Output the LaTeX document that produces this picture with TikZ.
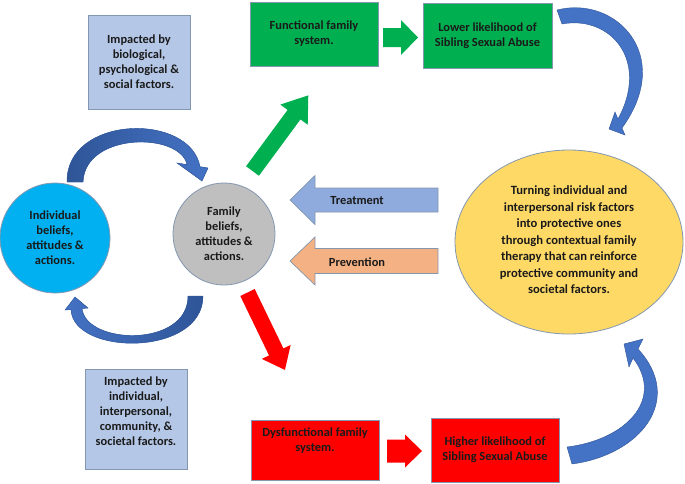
\documentclass[tikz,border=0pt]{standalone}
\usepackage{fontspec}
\setmainfont{Carlito}
\usetikzlibrary{arrows.meta,shapes.geometric}
\definecolor{lightbluebox}{HTML}{B4C7E7}
\definecolor{greenbox}{HTML}{00B050}
\definecolor{redbox}{HTML}{FF0000}
\definecolor{bluecirc}{HTML}{00B0F0}
\definecolor{graycirc}{HTML}{BFBFBF}
\definecolor{yellowell}{HTML}{FFD966}
\definecolor{treatc}{HTML}{8FAADC}
\definecolor{prevc}{HTML}{F4B183}
\definecolor{curvc}{HTML}{4472C4}
\definecolor{curvdark}{HTML}{2F5597}
\definecolor{edgec}{HTML}{8497B0}
\definecolor{txtc}{HTML}{1A1A1A}
\newcommand\blockarr[7]{%
  \begin{scope}[shift={(#2)},rotate=#3]
    \draw[#1] (0,-#6) -- (#4-#5,-#6) -- (#4-#5,-#7) -- (#4,0) -- (#4-#5,#7) -- (#4-#5,#6) -- (0,#6) -- cycle;
  \end{scope}}
\begin{document}
\begin{tikzpicture}[x=1pt,y=-1pt,
  txt/.style={font=\fontsize{12.4}{15}\selectfont\bfseries, align=center, text=txtc},
  box/.style={draw=edgec, line width=0.7pt, inner sep=0pt, txt},
  circ/.style={circle, draw=edgec, line width=0.8pt, inner sep=0pt, txt},
  barr/.style={draw=edgec, line width=0.7pt},
  curv/.style={draw=curvdark, line width=0.4pt, fill=curvc}
]
\useasboundingbox (0,0) rectangle (685,483);

% boxes
\node[box, fill=lightbluebox, minimum width=102pt, minimum height=94pt] (bio) at (139,62)
  {Impacted by\\biological,\\psychological \&\\social factors.};
\node[box, fill=greenbox, minimum width=128pt, minimum height=64pt] (func) at (314,34)
  {Functional family\\system.};
\node[box, fill=greenbox, minimum width=129pt, minimum height=65pt] (lower) at (487.5,35.5)
  {Lower likelihood of\\Sibling Sexual Abuse};
\node[box, fill=lightbluebox, minimum width=102pt, minimum height=100pt] (ind) at (136,419) {};
\node[txt] (indt) at (136,411) {Impacted by\\individual,\\interpersonal,\\community, \&\\societal factors.};
\node[box, fill=redbox, minimum width=128pt, minimum height=60pt] (dys) at (315,450) {};
\node[txt] (dyst) at (315,441) {Dysfunctional family\\system.};
\node[box, fill=redbox, minimum width=128pt, minimum height=64pt] (higher) at (495,450)
  {Higher likelihood of\\Sibling Sexual Abuse};

% circles
\node[circ, fill=bluecirc, minimum size=110pt] (indiv) at (55,238)
  {Individual\\beliefs,\\attitudes \&\\actions.};
\node[circ, fill=graycirc, minimum size=102pt] (fam) at (224,234)
  {Family\\beliefs,\\attitudes \&\\actions.};
\node[ellipse, draw=edgec, line width=0.8pt, fill=yellowell, minimum width=228pt, minimum height=184pt, inner sep=0pt] (turn) at (569,242) {};
\node[txt, font=\fontsize{12.6}{16.5}\selectfont\bfseries] (turnt) at (569,240)
  {Turning individual and\\interpersonal risk factors\\into protective ones\\through contextual family\\therapy that can reinforce\\protective community and\\societal factors.};

% block arrows
\blockarr{barr, fill=treatc}{438,200}{180}{148}{25}{12}{24.5}
\blockarr{barr, fill=prevc}{438,261}{180}{148}{25}{12.5}{24}
\node[txt] (treat) at (357,200.5) {Treatment};
\node[txt] (prev) at (357,262) {Prevention};
\blockarr{barr, draw=none, fill=greenbox}{383,37.5}{0}{35}{17}{9.5}{17.5}
\blockarr{barr, draw=none, fill=redbox}{387,451}{0}{35}{17}{11.5}{16.5}
\blockarr{barr, draw=none, fill=greenbox}{252.5,171}{53.6}{94}{24}{8}{17}
\blockarr{barr, draw=none, fill=redbox}{247.5,292.5}{-64.2}{86}{20}{8}{16}

% curved arrows (tapered block arrows)
\coordinate (a1s) at (67,182);
\coordinate (a1t) at (202,181);
\coordinate (a2s) at (203,296);
\coordinate (a2t) at (75,297);
\coordinate (a3s) at (557,10);
\coordinate (a3t) at (609,129);
\coordinate (a4s) at (572,464);
\coordinate (a4t) at (624,344);
\draw[curv, left color=curvdark, right color=curvc] (a1s) .. controls (66,115) and (190,112) .. (200,166.7)
  -- (208,168) -- (a1t) -- (177,163) -- (187,164.6) .. controls (180,132) and (85,132) .. (83,182) -- cycle;
\draw[curv, left color=curvc, right color=curvdark] (a2s) .. controls (203,357) and (73,356) .. (71,309.5)
  -- (65,310) -- (a2t) -- (88,308) -- (82,308.5) .. controls (86,345) and (188,348) .. (188,296) -- cycle;
\draw[curv] (a3s) .. controls (615,-5) and (675,55) .. (622,128)
  -- (625,135) -- (a3t) -- (615,112) -- (618,119) .. controls (650,60) and (610,15) .. (562,24) -- cycle;
\draw[curv] (a4s) .. controls (640,455) and (685,400) .. (638,349)
  -- (643,339) -- (a4t) -- (629,367) -- (633,358) .. controls (665,400) and (625,440) .. (567,447) -- cycle;
\end{tikzpicture}
\end{document}
